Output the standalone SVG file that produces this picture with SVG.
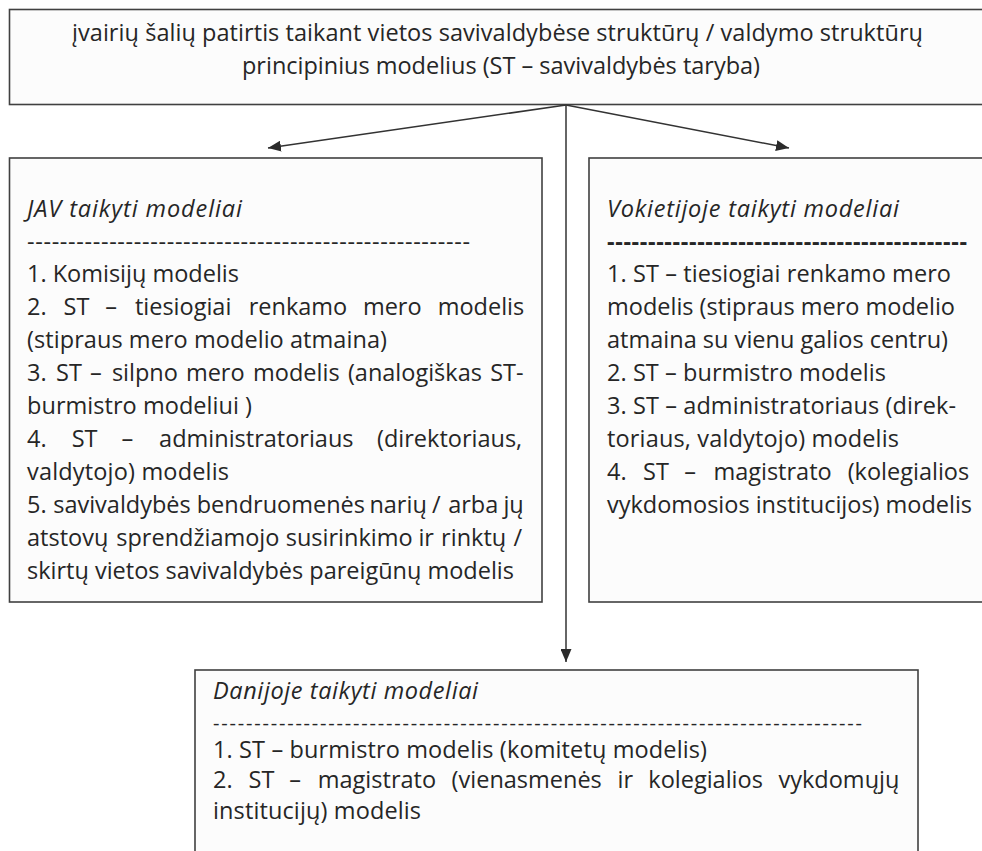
<svg xmlns="http://www.w3.org/2000/svg" width="982" height="851" viewBox="0 0 982 851">
<defs>
<style>
.t{font-family:"Open Sans","Noto Sans","Liberation Sans",sans-serif;font-size:23.5px;fill:#262626}
.it{font-style:italic}
.bd{font-weight:bold}
.sm{font-size:20px}
.box{fill:#fcfcfc;stroke:#404040;stroke-width:1.6}
.conn{stroke:#333;stroke-width:1.5;fill:none}
</style>
<marker id="arr" markerUnits="userSpaceOnUse" markerWidth="14" markerHeight="11" refX="13" refY="5.5" orient="auto">
<path d="M0,0 L13,5.5 L0,11 z" fill="#2b2b2b"/>
</marker>
</defs>
<rect width="982" height="851" fill="#ffffff"/>

<g id="top">
<rect class="box" x="9.5" y="9.5" width="990" height="95"/>
<text class="t" x="72" y="41" textLength="851" lengthAdjust="spacing">įvairių šalių patirtis taikant vietos savivaldybėse struktūrų / valdymo struktūrų</text>
<text class="t" x="242" y="74" textLength="518" lengthAdjust="spacing">principinius modelius (ST – savivaldybės taryba)</text>
</g>

<g id="connectors">
<line class="conn" x1="566" y1="105" x2="268" y2="148" marker-end="url(#arr)"/>
<line class="conn" x1="566" y1="105" x2="789" y2="148" marker-end="url(#arr)"/>
<line class="conn" x1="566" y1="105" x2="566" y2="662" marker-end="url(#arr)"/>
</g>

<g id="jav">
<rect class="box" x="9.5" y="158" width="532.5" height="444"/>
<text class="t it" x="27" y="217" textLength="215" lengthAdjust="spacing">JAV taikyti modeliai</text>
<text class="t" x="27" y="250" textLength="443" lengthAdjust="spacing">------------------------------------------------------</text>
<text class="t" x="27" y="282" textLength="212" lengthAdjust="spacing">1. Komisijų modelis</text>
<text class="t" y="315"><tspan x="27">2.</tspan> <tspan x="63.6">ST</tspan> <tspan x="105.3">–</tspan> <tspan x="134.9">tiesiogiai</tspan> <tspan x="248.7">renkamo</tspan> <tspan x="362.9">mero</tspan> <tspan x="437.7">modelis</tspan></text>
<text class="t" x="27" y="348" textLength="360" lengthAdjust="spacing">(stipraus mero modelio atmaina)</text>
<text class="t" y="381"><tspan x="27">3.</tspan> <tspan x="56">ST</tspan> <tspan x="90">–</tspan> <tspan x="111.9">silpno</tspan> <tspan x="185.9">mero</tspan> <tspan x="253.1">modelis</tspan> <tspan x="347.9">(analogiškas</tspan> <tspan x="490.2">ST-</tspan></text>
<text class="t" x="27" y="414" textLength="225" lengthAdjust="spacing">burmistro modeliui )</text>
<text class="t" y="447"><tspan x="27">4.</tspan> <tspan x="71.7">ST</tspan> <tspan x="121.4">–</tspan> <tspan x="159.1">administratoriaus</tspan> <tspan x="377">(direktoriaus,</tspan></text>
<text class="t" x="27" y="480" textLength="202" lengthAdjust="spacing">valdytojo) modelis</text>
<text class="t" y="513"><tspan x="27">5.</tspan> <tspan x="53.2">savivaldybės</tspan> <tspan x="196.7">bendruomenės</tspan> <tspan x="369.4">narių</tspan> <tspan x="432">/</tspan> <tspan x="448.2">arba</tspan> <tspan x="503.4">jų</tspan></text>
<text class="t" y="546"><tspan x="27">atstovų</tspan> <tspan x="116.3">sprendžiamojo</tspan> <tspan x="285.7">susirinkimo</tspan> <tspan x="418.4">ir</tspan> <tspan x="441.1">rinktų</tspan> <tspan x="513.6">/</tspan></text>
<text class="t" x="27" y="579" textLength="487" lengthAdjust="spacing">skirtų vietos savivaldybės pareigūnų modelis</text>
</g>

<g id="vokietija">
<rect class="box" x="589" y="158" width="420" height="444"/>
<text class="t it" x="607" y="217" textLength="292" lengthAdjust="spacing">Vokietijoje taikyti modeliai</text>
<text class="t bd" x="607" y="250" textLength="360" lengthAdjust="spacing">--------------------------------------------</text>
<text class="t" x="607" y="282" textLength="344" lengthAdjust="spacing">1. ST – tiesiogiai renkamo mero</text>
<text class="t" x="607" y="315" textLength="348" lengthAdjust="spacing">modelis (stipraus mero modelio</text>
<text class="t" x="607" y="348" textLength="341" lengthAdjust="spacing">atmaina su vienu galios centru)</text>
<text class="t" x="607" y="381" textLength="279" lengthAdjust="spacing">2. ST – burmistro modelis</text>
<text class="t" x="607" y="414" textLength="349" lengthAdjust="spacing">3. ST – administratoriaus (direk-</text>
<text class="t" x="607" y="447" textLength="292" lengthAdjust="spacing">toriaus, valdytojo) modelis</text>
<text class="t" y="480"><tspan x="607">4.</tspan> <tspan x="643.1">ST</tspan> <tspan x="684.3">–</tspan> <tspan x="713.4">magistrato</tspan> <tspan x="847.7">(kolegialios</tspan></text>
<text class="t" x="607" y="513" textLength="365" lengthAdjust="spacing">vykdomosios institucijos) modelis</text>
</g>

<g id="danija">
<rect class="box" x="195" y="670" width="723" height="200"/>
<text class="t it" x="213" y="699" textLength="265" lengthAdjust="spacing">Danijoje taikyti modeliai</text>
<text class="t sm" x="213" y="730" textLength="649" lengthAdjust="spacing">-------------------------------------------------------------------------------</text>
<text class="t" x="213" y="758" textLength="494" lengthAdjust="spacing">1. ST – burmistro modelis (komitetų modelis)</text>
<text class="t" y="788"><tspan x="213">2.</tspan> <tspan x="248.6">ST</tspan> <tspan x="289.3">–</tspan> <tspan x="317.8">magistrato</tspan> <tspan x="451.6">(vienasmenės</tspan> <tspan x="617.6">ir</tspan> <tspan x="648.3">kolegialios</tspan> <tspan x="778.5">vykdomųjų</tspan></text>
<text class="t" x="213" y="819" textLength="208" lengthAdjust="spacing">institucijų) modelis</text>
</g>
</svg>
